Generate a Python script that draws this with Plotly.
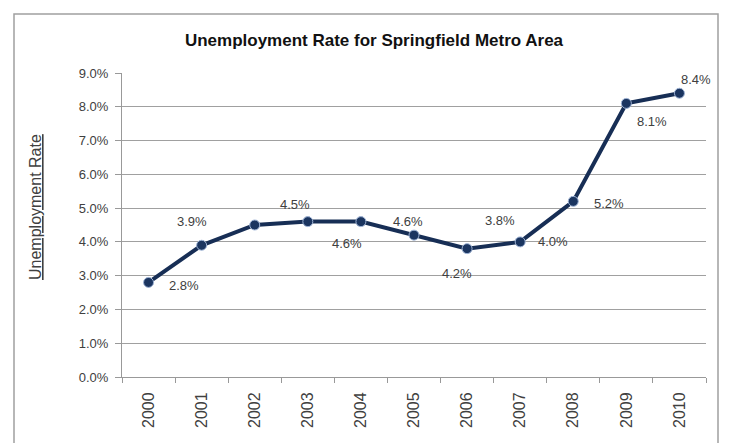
import plotly.graph_objects as go

years = ["2000", "2001", "2002", "2003", "2004", "2005", "2006", "2007", "2008", "2009", "2010"]
rates = [0.028, 0.039, 0.045, 0.046, 0.046, 0.042, 0.038, 0.040, 0.052, 0.081, 0.084]
label_texts = ["2.8%", "3.9%", "4.5%", "4.6%", "4.6%", "4.2%", "3.8%", "4.0%", "5.2%", "8.1%", "8.4%"]
# label offsets (pixels) relative to each point, as placed in the original chart
label_dx = [35, -10, 40, 39, 47, 43, 33, 33, 36, 26, 17]
label_dy = [-3, 24, 21, -22, 0, -38, 28, 0, -2, -18, 14]

FONT = "Liberation Sans, Arial, sans-serif"

# page body adds ~8px offset, so the figure is drawn 8px smaller with shifted margins
W, H = 722, 435
L, R, T, B = 114, 24, 65, 66
PW, PH = W - L - R, H - T - B

fig = go.Figure()
fig.add_trace(go.Scatter(
    x=years, y=rates, mode="lines+markers",
    line=dict(color="#172E55", width=4),
    marker=dict(symbol="circle", size=10, color="#1B3560",
                line=dict(color="#9FB4D6", width=1)),
    hoverinfo="x+y", showlegend=False,
))

for i, (v, t, dx, dy) in enumerate(zip(rates, label_texts, label_dx, label_dy)):
    fig.add_annotation(x=i, y=v, text=t, showarrow=False, xref="x", yref="y",
                       xshift=dx, yshift=dy,
                       font=dict(family=FONT, size=13, color="#404040"))

fig.add_annotation(x=(27 - L) / PW, y=(T + PH - 199) / PH, xref="paper", yref="paper",
                   xanchor="center", yanchor="middle",
                   text="<u>Unemployment Rate</u>", textangle=-90, showarrow=False,
                   font=dict(family=FONT, size=16, color="#404040"))

fig.update_layout(
    width=W, height=H,
    margin=dict(l=L, r=R, t=T, b=B, autoexpand=False),
    paper_bgcolor="white", plot_bgcolor="white",
    font=dict(family=FONT, color="#404040"),
    title=dict(text="<b>Unemployment Rate for Springfield Metro Area</b>",
               x=366 / W, xref="container", xanchor="center",
               y=1 - 32 / H, yref="container", yanchor="middle",
               font=dict(size=17, color="#111111", family=FONT)),
    xaxis=dict(type="category", tickangle=-90, showgrid=False, automargin=False,
               showline=True, linecolor="#999999", linewidth=1,
               ticks="outside", tickson="boundaries", ticklen=5, tickcolor="#999999",
               ticklabelstandoff=8,
               tickfont=dict(size=16, color="#404040"), range=[-0.5, 10.5]),
    yaxis=dict(range=[0, 0.09], dtick=0.01, tickformat=".1%", automargin=False,
               showgrid=True, gridcolor="#A0A0A0", gridwidth=1,
               showline=True, linecolor="#999999", linewidth=1,
               ticks="outside", ticklen=6, tickcolor="#999999", ticklabelstandoff=4,
               tickfont=dict(size=13, color="#404040"),
               zeroline=False),
)

fig.add_shape(type="rect", xref="paper", yref="paper",
              x0=(6 - L) / PW, x1=(710 - L) / PW, y0=-(B + 10) / PH, y1=1 + (T - 6) / PH,
              line=dict(color="#A0A0A0", width=1.5), fillcolor="rgba(0,0,0,0)", layer="below")

fig.write_html("out.html")
